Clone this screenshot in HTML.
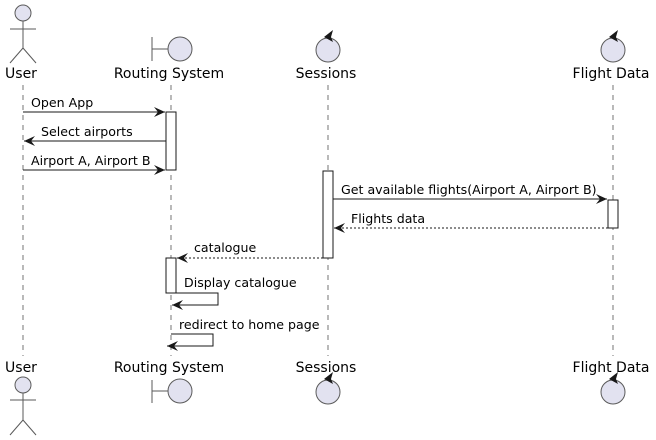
<!DOCTYPE html>
<html><head><meta charset="utf-8"><style>
html,body{margin:0;padding:0;background:#fff;}
svg{display:block;font-family:"DejaVu Sans","Liberation Sans",sans-serif;}
</style></head><body>
<svg width="656" height="440" viewBox="0 0 656 440" xmlns="http://www.w3.org/2000/svg">
<defs>
<marker id="ah" markerWidth="12" markerHeight="10" refX="11" refY="5" orient="auto" markerUnits="userSpaceOnUse">
<path d="M0,0 L11,5 L0,10 L4,5 Z" fill="#181818"/>
</marker>
</defs>
<g stroke="#181818" stroke-width="0.6" stroke-dasharray="5,5" fill="none">
<line x1="23" y1="85" x2="23" y2="356"/>
<line x1="171" y1="85" x2="171" y2="356"/>
<line x1="328" y1="85" x2="328" y2="356"/>
<line x1="613" y1="85" x2="613" y2="356"/>
</g>
<g fill="#fff" stroke="#181818" stroke-width="1">
<rect x="166" y="112" width="10" height="58"/>
<rect x="323" y="171" width="10" height="87"/>
<rect x="608" y="200" width="10" height="28"/>
<rect x="166" y="258" width="10" height="35"/>
</g>
<g fill="#E2E2F0" stroke="#5a5a5a" stroke-width="1">
<circle cx="23" cy="13" r="8"/>
<line x1="23" y1="21" x2="23" y2="48"/><line x1="10" y1="29" x2="36" y2="29"/>
<line x1="23" y1="48" x2="10" y2="63"/><line x1="23" y1="48" x2="36" y2="63"/>
<line x1="152" y1="37" x2="152" y2="61"/><line x1="152" y1="49" x2="168" y2="49"/>
<circle cx="180" cy="49" r="12"/>
<circle cx="328" cy="50" r="12"/>
<circle cx="613" cy="50" r="12"/>
<circle cx="23" cy="385" r="8"/>
<line x1="23" y1="393" x2="23" y2="420"/><line x1="10" y1="400" x2="36" y2="400"/>
<line x1="23" y1="420" x2="10" y2="435"/><line x1="23" y1="420" x2="36" y2="435"/>
<line x1="152" y1="380" x2="152" y2="403"/><line x1="152" y1="391" x2="168" y2="391"/>
<circle cx="180" cy="391" r="12"/>
<circle cx="328" cy="392" r="12"/>
<circle cx="613" cy="392" r="12"/>
</g>
<g fill="#181818">
<path d="M324,37 L333,30 L331,37 L333,42 Z"/>
<path d="M609,37 L618,30 L616,37 L618,42 Z"/>
<path d="M324,379 L333,372 L331,379 L333,384 Z"/>
<path d="M609,379 L618,372 L616,379 L618,384 Z"/>
</g>
<g font-size="14" fill="#000" text-anchor="middle">
<text x="21" y="78">User</text><text x="169" y="78">Routing System</text>
<text x="326" y="78">Sessions</text><text x="611" y="78">Flight Data</text>
<text x="21" y="372">User</text><text x="169" y="372">Routing System</text>
<text x="326" y="372">Sessions</text><text x="611" y="372">Flight Data</text>
</g>
<g stroke="#181818" stroke-width="1" fill="none" marker-end="url(#ah)">
<line x1="23" y1="112" x2="165" y2="112"/>
<line x1="166" y1="141" x2="24" y2="141"/>
<line x1="23" y1="170" x2="165" y2="170"/>
<line x1="333" y1="199" x2="607" y2="199"/>
<line x1="608" y1="228" x2="334" y2="228" stroke-dasharray="2,2"/>
<line x1="323" y1="258" x2="177" y2="258" stroke-dasharray="2,2"/>
<polyline points="176,293 218,293 218,305 172,305"/>
<polyline points="171,334 213,334 213,346 167,346"/>
</g>
<g font-size="12.6" fill="#000">
<text x="31" y="107">Open App</text>
<text x="41" y="136">Select airports</text>
<text x="31" y="165">Airport A, Airport B</text>
<text x="341" y="194">Get available flights(Airport A, Airport B)</text>
<text x="351" y="223">Flights data</text>
<text x="194" y="252">catalogue</text>
<text x="184" y="287">Display catalogue</text>
<text x="179" y="329">redirect to home page</text>
</g>
</svg>
</body></html>
